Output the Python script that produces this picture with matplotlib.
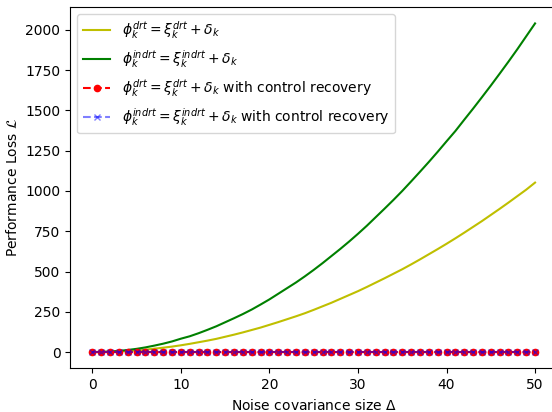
import numpy as np
import matplotlib
matplotlib.use("Agg")
import matplotlib.pyplot as plt

# noise covariance size
delta = list(range(0, 51))

# performance loss, direct attack
loss_drt = [0, 0, 2, 4, 7, 10, 15, 21, 27, 34,
            42, 51, 61, 71, 82, 95, 108, 122, 137, 152,
            169, 186, 204, 222, 241, 262, 284, 306, 330, 354,
            378, 404, 431, 458, 486, 514, 544, 575, 607, 639,
            672, 706, 741, 777, 813, 851, 889, 928, 968, 1008,
            1052]

# performance loss, indirect attack
loss_indrt = [0, 1, 3, 7, 13, 20, 29, 40, 52, 66,
              83, 98, 117, 138, 160, 185, 210, 236, 264, 295,
              327, 362, 397, 432, 470, 510, 552, 596, 640, 686,
              734, 784, 837, 890, 944, 1000, 1059, 1119, 1180, 1243,
              1308, 1372, 1442, 1511, 1582, 1654, 1728, 1803, 1880, 1960,
              2040]

# with control recovery the loss stays at zero
loss_drt_rec = [0] * 51
loss_indrt_rec = [0] * 51

fig = plt.figure(figsize=(5.52, 4.12), dpi=100)
ax = fig.add_axes([0.1272, 0.1056, 0.8822, 0.8774])

ax.plot(delta, loss_drt, color='y', label=r'$\phi_k^{drt} = \xi_k^{drt} + \delta_k$')
ax.plot(delta, loss_indrt, color='g', label=r'$\phi_k^{indrt} = \xi_k^{indrt} + \delta_k$')
ax.plot(delta, loss_drt_rec, 'r--', marker='o', markersize=4.5,
        label=r'$\phi_k^{drt} = \xi_k^{drt} + \delta_k$ with control recovery')
ax.plot(delta, loss_indrt_rec, 'b--', marker='x', markersize=4.5, alpha=0.5,
        label=r'$\phi_k^{indrt} = \xi_k^{indrt} + \delta_k$ with control recovery')

ax.set_xlabel(r'Noise covariance size $\Delta$')
ax.set_ylabel(r'Performance Loss $\mathcal{L}$')
ax.legend(loc='upper left')

fig.savefig('out.png', dpi=100)
